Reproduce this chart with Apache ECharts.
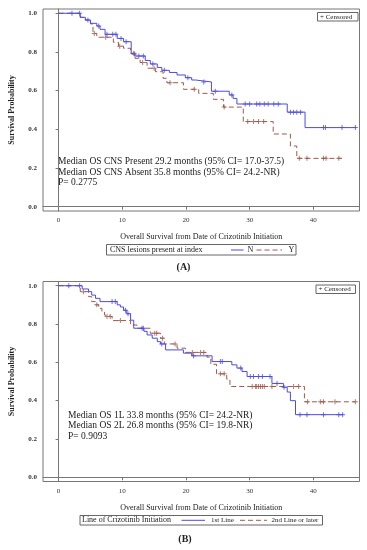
<!DOCTYPE html>
<html><head><meta charset="utf-8">
<script src="https://cdn.jsdelivr.net/npm/echarts@6/dist/echarts.min.js"></script>
<style>html,body{margin:0;padding:0;background:#fff}#c{width:367px;height:550px}</style>
</head><body><div id="c"></div>
<script>
// ---- Panel A: CNS lesions present at index ----
const A_N_time = [0, 3.4, 4.2, 5.0, 6.0, 6.5, 7.3, 9.2, 10.2, 11.4, 12.0, 13.6, 14.4, 15.5, 16.2, 17.4, 18.6, 19.9, 20.9, 21.5, 24.0, 26.8, 27.4, 28.0, 35.9, 38.7, 46.7];
const A_N_surv = [1.0, 0.979, 0.965, 0.948, 0.934, 0.917, 0.891, 0.870, 0.853, 0.790, 0.779, 0.756, 0.738, 0.720, 0.705, 0.694, 0.681, 0.667, 0.655, 0.645, 0.597, 0.578, 0.560, 0.531, 0.489, 0.409, 0.409];
const A_Y_time = [0, 3.4, 4.2, 5.0, 5.4, 6.0, 8.6, 9.4, 10.2, 11.3, 12.0, 12.8, 13.9, 15.2, 16.4, 17.0, 19.6, 22.0, 24.3, 25.9, 29.0, 33.7, 36.4, 37.4, 44.5];
const A_Y_surv = [1.0, 0.979, 0.965, 0.945, 0.896, 0.876, 0.850, 0.830, 0.819, 0.793, 0.767, 0.745, 0.716, 0.698, 0.664, 0.641, 0.607, 0.586, 0.555, 0.515, 0.440, 0.376, 0.314, 0.250, 0.250];
const A_N_censor = [2.1, 3.3, 4.6, 6.3, 7.6, 8.5, 9.0, 9.8, 10.6, 11.9, 12.6, 13.3, 14.8, 16.6, 20.3, 22.8, 24.6, 27.2, 29.3, 30.0, 31.1, 31.6, 32.3, 32.9, 33.8, 34.5, 36.4, 36.9, 37.4, 38.0, 41.6, 41.9, 44.5, 46.6];
const A_Y_censor = [5.6, 7.4, 9.6, 11.8, 13.2, 15.0, 17.5, 21.3, 26.0, 29.7, 30.6, 31.4, 32.2, 37.8, 39.0, 41.6, 42.0, 44.0];

// ---- Panel B: Line of Crizotinib Initiation ----
const B_1L_time = [0, 3.7, 4.7, 5.2, 5.8, 6.5, 9.2, 9.7, 10.2, 10.7, 11.3, 11.8, 13.4, 13.9, 14.7, 15.5, 16.0, 16.8, 19.6, 20.9, 24.1, 27.2, 28.0, 28.8, 29.6, 33.5, 35.3, 35.9, 36.4, 37.2, 44.7];
const B_1L_surv = [1.0, 0.983, 0.969, 0.951, 0.934, 0.917, 0.900, 0.889, 0.872, 0.854, 0.820, 0.778, 0.762, 0.743, 0.726, 0.708, 0.696, 0.665, 0.648, 0.634, 0.604, 0.587, 0.570, 0.552, 0.526, 0.490, 0.470, 0.445, 0.400, 0.327, 0.327];
const B_2L_time = [0, 3.4, 4.7, 5.2, 5.8, 6.3, 6.8, 7.2, 7.5, 8.4, 11.3, 12.3, 14.4, 16.0, 16.6, 18.6, 19.9, 23.3, 23.9, 24.8, 26.4, 26.9, 38.6, 46.6];
const B_2L_surv = [1.0, 0.969, 0.943, 0.917, 0.900, 0.882, 0.865, 0.847, 0.839, 0.818, 0.795, 0.778, 0.752, 0.726, 0.696, 0.674, 0.652, 0.627, 0.590, 0.540, 0.512, 0.474, 0.394, 0.394];
const B_1L_censor = [1.6, 3.3, 8.4, 8.9, 10.5, 10.9, 13.1, 13.3, 16.2, 21.2, 25.4, 25.7, 28.6, 30.1, 30.6, 31.4, 32.0, 33.2, 34.3, 35.4, 37.9, 39.0, 41.6, 44.0, 44.6];
const B_2L_censor = [3.9, 6.0, 7.6, 8.1, 9.7, 15.1, 15.4, 16.3, 18.3, 21.0, 22.3, 22.8, 25.4, 26.0, 30.4, 30.9, 31.1, 31.4, 31.7, 32.0, 32.3, 33.5, 36.9, 37.7, 39.1, 41.1, 41.6, 43.4, 46.6];

const xTicks = [0, 10, 20, 30, 40];
const yTicks = [0, 0.2, 0.4, 0.6, 0.8, 1.0];

const BLUE = '#4c4cdc', RED = '#9e5a4c';
const SERIF = '"Liberation Serif","DejaVu Serif",serif';
const PLUS = 'path://M-0.2,-1L0.2,-1L0.2,-0.2L1,-0.2L1,0.2L0.2,0.2L0.2,1L-0.2,1L-0.2,0.2L-1,0.2L-1,-0.2L-0.2,-0.2Z';

function pairs(t, s) { return t.map((v, i) => [v, s[i]]); }
function lookup(t, s, x) { let v = s[0]; for (let i = 0; i < t.length; i++) { if (t[i] <= x) v = s[i]; } return v; }
function censorPts(c, t, s) { return c.map(x => [x, lookup(t, s, x)]); }

const chart = echarts.init(document.getElementById('c'), null, {renderer: 'canvas'});

function xAx(grid) {
  return {
    type: 'value', gridIndex: grid, min: -2.45, max: 47.25,
    name: 'Overall Survival from Date of Crizotinib Initiation', nameLocation: 'middle', nameGap: 22,
    nameTextStyle: {fontFamily: SERIF, fontSize: 8, color: '#222'},
    axisLine: {show: true, lineStyle: {color: '#777', width: 1}},
    axisTick: {show: true, length: 3, lineStyle: {color: '#777'}, customValues: xTicks},
    axisLabel: {fontFamily: SERIF, fontSize: 7, color: '#333', margin: 6, customValues: xTicks},
    splitLine: {show: false}
  };
}
function yAx(grid) {
  return {
    type: 'value', gridIndex: grid, min: -0.022, max: 1.022,
    name: 'Survival Probability', nameLocation: 'middle', nameGap: 27,
    nameTextStyle: {fontFamily: SERIF, fontSize: 8, color: '#222', fontWeight: 'bold'},
    axisLine: {show: true, lineStyle: {color: '#777', width: 1}},
    axisTick: {show: true, length: 3, lineStyle: {color: '#777'}, customValues: yTicks},
    axisLabel: {fontFamily: SERIF, fontSize: 7, color: '#333', margin: 6, fontWeight: 'bold',
      customValues: yTicks, formatter: v => v.toFixed(1)},
    splitLine: {show: false}
  };
}
function stepSeries(grid, t, s, color, dashed) {
  return {type: 'line', xAxisIndex: grid, yAxisIndex: grid, step: 'end', data: pairs(t, s),
    symbol: 'none', lineStyle: {color: color, width: 1, type: dashed ? [5, 3] : 'solid'}, z: dashed ? 3 : 4, animation: false};
}
function censorSeries(grid, c, t, s, color) {
  return {type: 'scatter', xAxisIndex: grid, yAxisIndex: grid, data: censorPts(c, t, s),
    symbol: PLUS, symbolSize: 5, itemStyle: {color: color}, z: 5, animation: false};
}

function txt(x, y, text, font, size, extra) {
  return {type: 'text', x: x, y: y, style: Object.assign({text: text, fontFamily: font, fontSize: size, fill: '#222', textVerticalAlign: 'middle'}, extra || {})};
}
function rect(x, y, w, h) {
  return {type: 'rect', shape: {x: x, y: y, width: w, height: h}, style: {fill: '#fff', stroke: '#666', lineWidth: 1}};
}
function ln(x1, x2, y, color, dashed) {
  return {type: 'line', shape: {x1: x1, y1: y, x2: x2, y2: y}, style: {stroke: color, lineWidth: 1, lineDash: dashed ? [5, 3] : null}};
}

const graphic = [
  rect(317.5, 12.5, 40.5, 8.5),
  txt(320, 16.8, '+ Censored', SERIF, 7),
  txt(58, 161, 'Median OS CNS Present 29.2 months (95% CI= 17.0-37.5)', SERIF, 9.5),
  txt(58, 172, 'Median OS CNS Absent 35.8 months (95% CI= 24.2-NR)', SERIF, 9.5),
  txt(58, 182.5, 'P= 0.2775', SERIF, 9.5),
  rect(106.5, 244.5, 189.5, 10.5),
  txt(110, 250, 'CNS lesions present at index', SERIF, 8),
  ln(231, 243.5, 250, BLUE, false),
  txt(247.5, 250, 'N', SERIF, 8),
  ln(256.5, 282, 250, RED, true),
  txt(288.5, 250, 'Y', SERIF, 8),
  txt(183.5, 267.5, '(A)', SERIF, 10, {fontWeight: 'bold', textAlign: 'center'}),
  rect(316, 285, 39.5, 8.5),
  txt(318.5, 289.3, '+ Censored', SERIF, 7),
  txt(68, 415, 'Median OS 1L 33.8 months (95% CI= 24.2-NR)', SERIF, 9.5),
  txt(68, 425.7, 'Median OS 2L 26.8 months (95% CI= 19.8-NR)', SERIF, 9.5),
  txt(68, 436, 'P= 0.9093', SERIF, 9.5),
  rect(80, 515.5, 242.5, 9.5),
  txt(82, 520.3, 'Line of Crizotinib Initiation', SERIF, 8),
  ln(181.5, 205, 520.3, BLUE, false),
  txt(211, 520.3, '1st Line', SERIF, 7),
  ln(240, 267, 520.3, RED, true),
  txt(271.5, 520.3, '2nd Line or later', SERIF, 7),
  txt(185, 539, '(B)', SERIF, 10, {fontWeight: 'bold', textAlign: 'center'})
];

chart.setOption({
  animation: false,
  grid: [
    {left: 42.5, top: 9, width: 317, height: 202, show: true, borderColor: '#777', borderWidth: 1, backgroundColor: 'transparent'},
    {left: 42.5, top: 281.5, width: 317, height: 200, show: true, borderColor: '#777', borderWidth: 1, backgroundColor: 'transparent'}
  ],
  xAxis: [xAx(0), xAx(1)],
  yAxis: [yAx(0), yAx(1)],
  series: [
    stepSeries(0, A_N_time, A_N_surv, BLUE, false),
    stepSeries(0, A_Y_time, A_Y_surv, RED, true),
    censorSeries(0, A_N_censor, A_N_time, A_N_surv, BLUE),
    censorSeries(0, A_Y_censor, A_Y_time, A_Y_surv, RED),
    stepSeries(1, B_1L_time, B_1L_surv, BLUE, false),
    stepSeries(1, B_2L_time, B_2L_surv, RED, true),
    censorSeries(1, B_1L_censor, B_1L_time, B_1L_surv, BLUE),
    censorSeries(1, B_2L_censor, B_2L_time, B_2L_surv, RED)
  ],
  graphic: graphic
});
</script>
</body></html>
